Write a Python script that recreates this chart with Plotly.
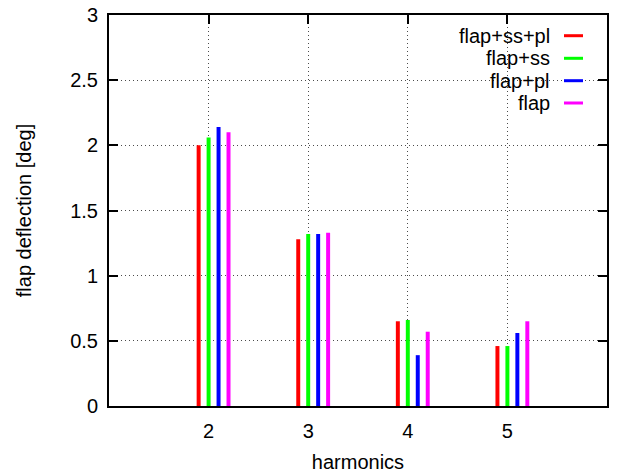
import plotly.graph_objects as go

harmonics = [2, 3, 4, 5]
series_names = ["flap+ss+pl", "flap+ss", "flap+pl", "flap"]
flap_ss_pl = [2.00, 1.28, 0.65, 0.46]
flap_ss = [2.06, 1.32, 0.66, 0.46]
flap_pl = [2.14, 1.32, 0.39, 0.56]
flap_only = [2.10, 1.33, 0.57, 0.65]
series_values = [flap_ss_pl, flap_ss, flap_pl, flap_only]
y_ticks = [0, 0.5, 1, 1.5, 2, 2.5, 3]
y_tick_labels = ["0", "0.5", "1", "1.5", "2", "2.5", "3"]

colors = ["#ff0000", "#00ff00", "#0000ff", "#ff00ff"]
shifts = [-0.1, 0.0, 0.1, 0.2]
bar_w = 0.04
FONT = "Liberation Sans, Arial, sans-serif"
FS = 20

fig = go.Figure()
for name, vals, col, sh in zip(series_names, series_values, colors, shifts):
    fig.add_trace(go.Bar(
        x=harmonics, y=vals, name=name, width=bar_w, offset=sh - bar_w / 2,
        marker=dict(color=col, line=dict(width=0)), showlegend=False,
    ))

# gnuplot-style legend (text right, sample line on the right)
L, R, T, B = 109, 23, 15, 67
W, H = 630 - L - R, 473 - T - B
def px(x):
    return (x - L) / W
def py(y):
    return (473 - B - y) / H

shapes = [dict(type="rect", xref="paper", yref="paper", x0=px(445), x1=px(595),
               y0=py(115), y1=py(24), fillcolor="white", line=dict(width=0), layer="between")]
annotations = []
rows = [35.7, 58.3, 80.7, 103]
for name, col, ry in zip(series_names, colors, rows):
    annotations.append(dict(xref="paper", yref="paper", x=px(552), y=py(ry), text=name,
                            showarrow=False, xanchor="right", yanchor="middle",
                            font=dict(family=FONT, size=FS, color="black")))
    shapes.append(dict(type="line", xref="paper", yref="paper", x0=px(564), x1=px(583),
                       y0=py(ry), y1=py(ry), line=dict(color=col, width=3), layer="above"))

axis_common = dict(showline=True, linecolor="black", linewidth=2, mirror="allticks",
                   ticks="inside", ticklen=9, tickwidth=1.5, tickcolor="black",
                   showgrid=True, gridcolor="rgba(0,0,0,0.7)", gridwidth=1, griddash="1px,3px",
                   zeroline=False, automargin=False,
                   tickfont=dict(family=FONT, size=FS, color="black"))

fig.update_layout(
    width=630, height=473, margin=dict(l=L, r=R, t=T, b=B),
    paper_bgcolor="white", plot_bgcolor="white", barmode="overlay",
    shapes=shapes, annotations=annotations,
    xaxis=dict(range=[1, 6], tickvals=harmonics, ticktext=[str(h) for h in harmonics],
               layer="below traces", ticklabelstandoff=6,
               title=dict(text="harmonics", font=dict(family=FONT, size=FS, color="black"), standoff=15),
               **axis_common),
    yaxis=dict(range=[0, 3], tickvals=y_ticks, ticktext=y_tick_labels, ticklabelstandoff=5,
               title=dict(text="flap deflection [deg]", font=dict(family=FONT, size=FS, color="black"), standoff=33),
               **axis_common),
)
fig.write_html("out.html", config={"displayModeBar": False},
               post_script="document.body.style.margin='0';document.body.style.padding='0';")
